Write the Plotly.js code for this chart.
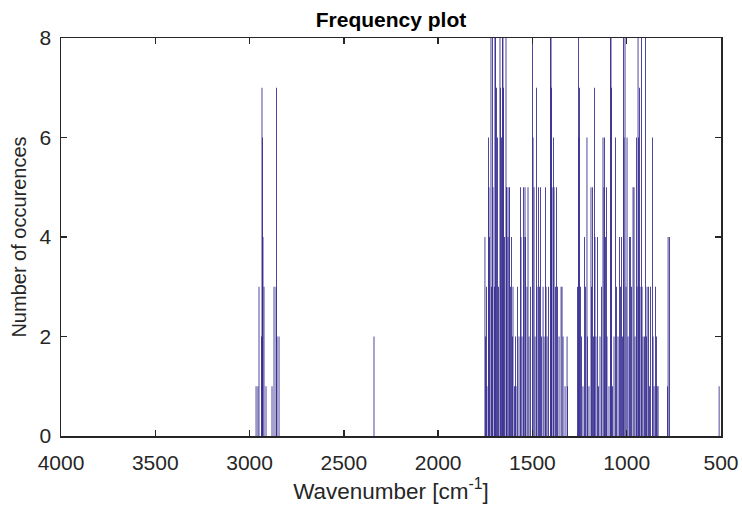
<!DOCTYPE html>
<html>
<head>
<meta charset="utf-8">
<script src="https://cdn.plot.ly/plotly-3.0.1.min.js"></script>
<style>
html,body{margin:0;padding:0;background:#fff;}
#chart{width:742px;height:512px;}
</style>
</head>
<body>
<div id="chart"></div>
<script>
// Wavenumbers (cm^-1) of histogram bins and their counts
const wavenumbers = [
  2965.6, 2955.6, 2950.0, 2936.7, 2934.1, 2931.4, 2928.8, 2923.4, 2912.8,
  2881.0, 2870.4, 2859.7, 2857.1, 2854.4, 2843.8,
  2340.2,
  1751.8, 1749.1, 1743.8, 1741.2, 1733.2, 1730.6, 1727.9, 1719.9, 1717.3, 1712.0,
  1709.3, 1701.4, 1698.7, 1696.0, 1690.7, 1685.4, 1680.1, 1672.1, 1669.5, 1664.1,
  1658.8, 1656.2, 1653.5, 1648.2, 1640.2, 1637.6, 1634.9, 1629.6, 1624.3, 1621.6,
  1616.3, 1611.0, 1605.7, 1603.0, 1595.0, 1589.7, 1587.1, 1579.1, 1571.2, 1563.2,
  1560.5, 1555.2, 1547.3, 1544.6, 1539.3, 1536.6, 1528.7, 1523.4, 1518.0, 1510.1,
  1499.5, 1496.8, 1491.5, 1486.2, 1478.2, 1475.6, 1467.6, 1462.3, 1457.0, 1451.7,
  1443.7, 1438.4, 1430.5, 1427.8, 1422.5, 1414.5, 1403.9, 1401.3, 1398.6, 1396.0,
  1388.0, 1385.3, 1377.4, 1372.1, 1366.8, 1358.8, 1348.2, 1342.9, 1337.6, 1327.0,
  1316.3, 1313.7,
  1261.2, 1255.9, 1253.2, 1250.6, 1245.3, 1239.9, 1232.0, 1224.0, 1218.7, 1210.8,
  1208.1, 1200.2, 1189.5, 1186.9, 1181.5, 1176.2, 1170.9, 1168.3, 1163.0, 1155.0,
  1149.7, 1141.7, 1133.8, 1125.8, 1120.5, 1117.8, 1112.5, 1107.2, 1104.6, 1093.9,
  1086.0, 1083.3, 1080.7, 1075.4, 1067.4, 1059.5, 1054.1, 1046.1, 1038.2, 1032.9,
  1027.6, 1022.2, 1016.9, 1014.3, 1009.0, 1003.7, 998.3, 993.0, 985.1, 979.8,
  974.4, 966.5, 961.2, 955.9, 947.9, 945.2, 939.9, 937.3, 931.9, 929.3,
  921.3, 918.7, 913.4, 905.4, 900.1, 894.8, 892.1, 884.2, 878.8, 873.5,
  862.9, 860.3, 854.9, 847.0, 841.7, 839.0, 833.7,
  783.2, 780.6, 772.6,
  510.0
];
const counts = [
  1, 1, 3, 2, 7, 6, 4, 3, 1,
  1, 3, 3, 7, 2, 2,
  2,
  4, 2, 3, 1, 6, 5, 4, 8, 3, 8,
  5, 3, 8, 8, 7, 6, 3, 8, 7, 6,
  8, 8, 7, 4, 8, 5, 5, 4, 5, 5,
  3, 4, 2, 3, 1, 2, 1, 3, 2, 5,
  4, 2, 5, 4, 5, 4, 3, 5, 2, 3,
  8, 6, 5, 2, 7, 3, 5, 3, 5, 2,
  3, 2, 5, 3, 2, 3, 8, 8, 7, 5,
  6, 5, 3, 5, 3, 2, 3, 3, 2, 1,
  2, 1,
  3, 8, 6, 7, 3, 2, 1, 4, 3, 6,
  2, 1, 5, 3, 5, 2, 7, 4, 2, 4,
  1, 2, 3, 6, 5, 6, 4, 5, 2, 1,
  8, 8, 7, 1, 2, 6, 3, 2, 4, 3,
  4, 2, 8, 6, 8, 3, 6, 2, 4, 4,
  3, 5, 5, 2, 6, 3, 8, 6, 7, 3,
  8, 3, 2, 2, 8, 2, 3, 3, 1, 3,
  6, 2, 1, 3, 2, 1, 1,
  1, 4, 4,
  1
];
const xTicks = [4000, 3500, 3000, 2500, 2000, 1500, 1000, 500];
const yTicks = [0, 2, 4, 6, 8];

const axisColor = '#262626';
const fontFamily = 'Liberation Sans, Arial, Helvetica, sans-serif';

const trace = {
  type: 'bar',
  x: wavenumbers,
  y: counts,
  width: 4.4,
  marker: { color: 'rgb(44,34,138)', line: { width: 0 } },
  hoverinfo: 'x+y'
};

const layout = {
  width: 742,
  height: 512,
  margin: { l: 61, r: 21, t: 38, b: 76 },
  paper_bgcolor: '#ffffff',
  plot_bgcolor: '#ffffff',
  showlegend: false,
  barmode: 'overlay',
  font: { family: fontFamily, size: 21, color: axisColor },
  title: {
    text: '<b>Frequency plot</b>',
    font: { family: fontFamily, size: 21, color: '#000000' },
    x: 0.5, xref: 'paper', xanchor: 'center',
    y: 1, yref: 'paper', yanchor: 'bottom', pad: { b: 11 }
  },
  xaxis: {
    range: [4000, 500],
    tickmode: 'array',
    tickvals: xTicks,
    ticktext: xTicks.map(String),
    ticks: 'inside',
    ticklen: 6,
    tickwidth: 1.5,
    tickcolor: axisColor,
    ticklabelstandoff: 7,
    showline: true,
    linecolor: axisColor,
    linewidth: 1.5,
    mirror: 'ticks',
    showgrid: false,
    zeroline: false,
    tickfont: { family: fontFamily, size: 21, color: axisColor },
    title: {
      text: 'Wavenumber [cm<sup>-1</sup>]',
      font: { family: fontFamily, size: 22.5, color: axisColor },
      standoff: 10
    }
  },
  yaxis: {
    range: [0, 8],
    tickmode: 'array',
    tickvals: yTicks,
    ticktext: yTicks.map(String),
    ticks: 'inside',
    ticklen: 6,
    tickwidth: 1.5,
    tickcolor: axisColor,
    ticklabelstandoff: 4,
    showline: true,
    linecolor: axisColor,
    linewidth: 1.5,
    mirror: 'ticks',
    showgrid: false,
    zeroline: false,
    tickfont: { family: fontFamily, size: 21, color: axisColor },
    title: {
      text: 'Number of occurences',
      font: { family: fontFamily, size: 20, color: axisColor },
      standoff: 7
    }
  }
};

Plotly.newPlot('chart', [trace], layout, { staticPlot: true, displayModeBar: false });
</script>
</body>
</html>
